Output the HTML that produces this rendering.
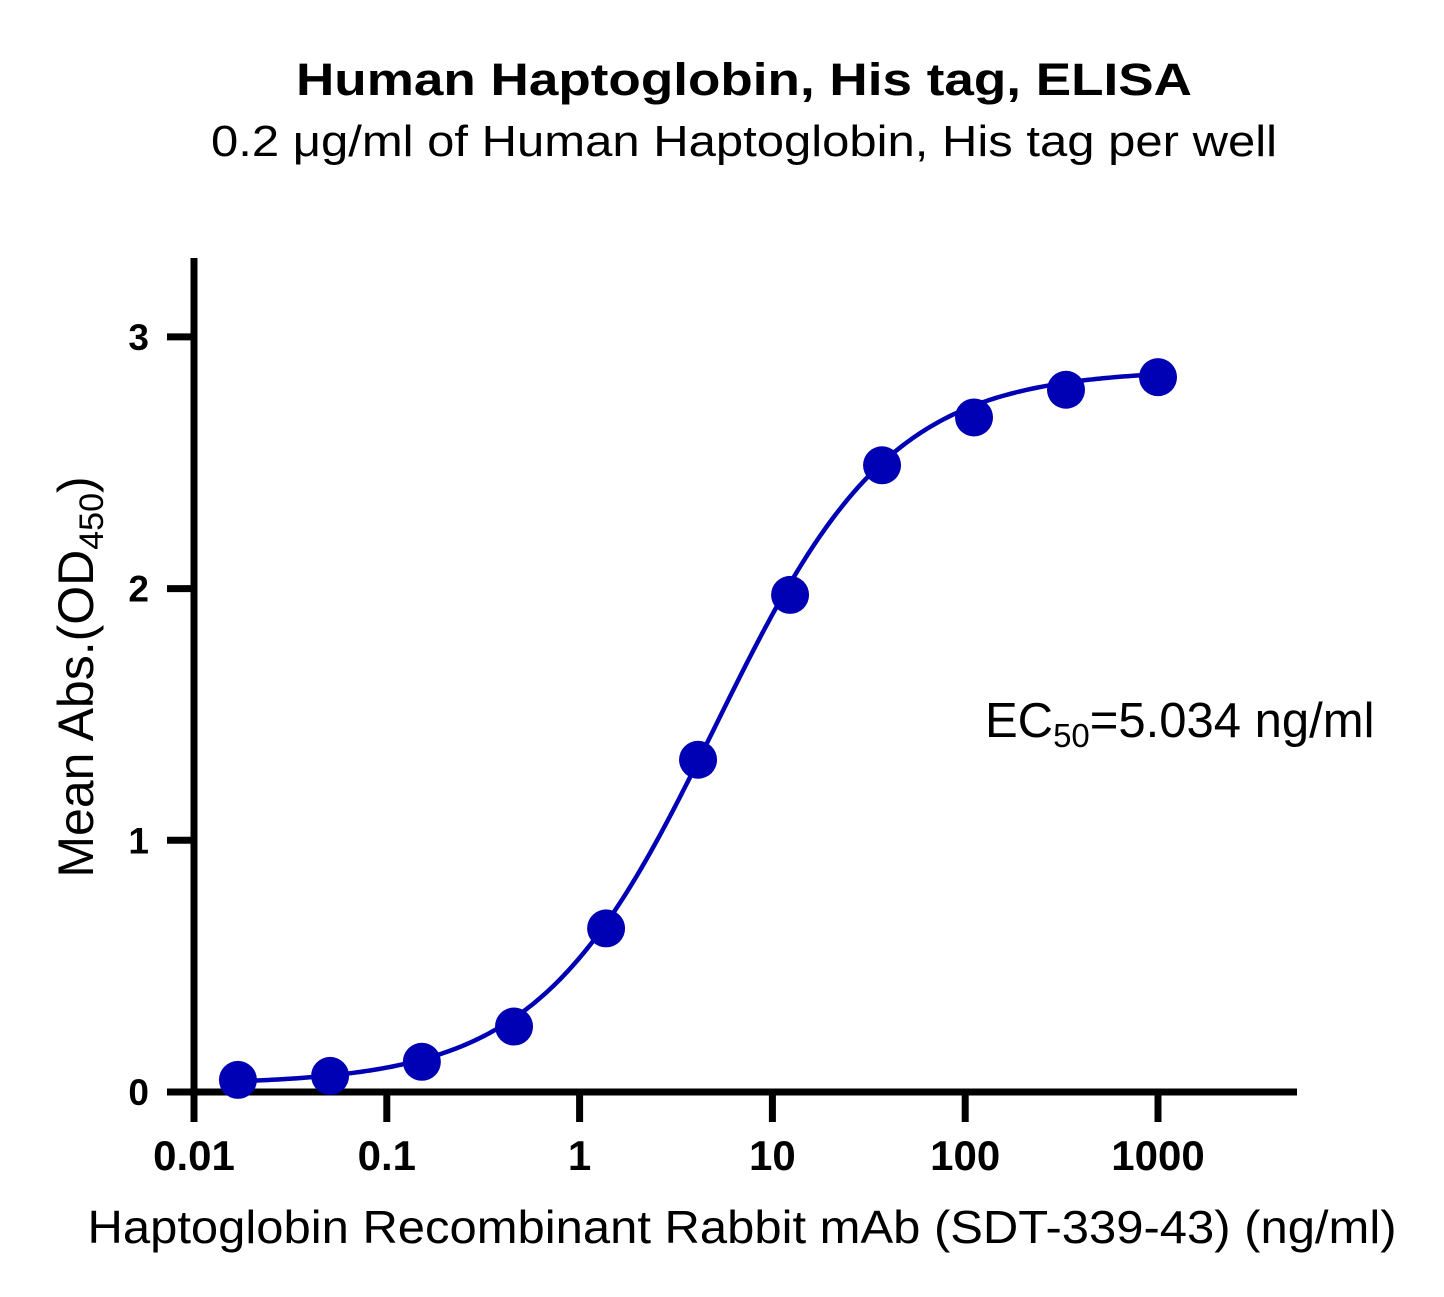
<!DOCTYPE html>
<html><head><meta charset="utf-8"><style>
html,body{margin:0;padding:0;background:#fff;}
svg{display:block;font-family:"Liberation Sans",Arial,sans-serif;}
</style></head><body>
<svg id="chart" width="1444" height="1297" viewBox="0 0 1444 1297" xmlns="http://www.w3.org/2000/svg">
<text x="744" y="95" text-anchor="middle" font-size="45" font-weight="bold" textLength="896" lengthAdjust="spacingAndGlyphs">Human Haptoglobin, His tag, ELISA</text>
<text x="744" y="156" text-anchor="middle" font-size="44" textLength="1066" lengthAdjust="spacingAndGlyphs">0.2 μg/ml of Human Haptoglobin, His tag per well</text>
<g id="axes"></g>
<g id="plot"></g>
<text x="985" y="737" font-size="49">EC<tspan font-size="33" dy="10">50</tspan><tspan dy="-10">=5.034 ng/ml</tspan></text>
<text transform="translate(93,677) rotate(-90)" text-anchor="middle" font-size="50">Mean Abs.(OD<tspan font-size="34" dy="10">450</tspan><tspan dy="-10">)</tspan></text>
<text x="742" y="1243" text-anchor="middle" font-size="46" textLength="1309" lengthAdjust="spacingAndGlyphs">Haptoglobin Recombinant Rabbit mAb (SDT-339-43) (ng/ml)</text>
</svg>
<script>
const concentrations = [1000, 333.3, 111.1, 37.04, 12.35, 4.115, 1.372, 0.457, 0.152, 0.0508, 0.0169];
const absorbance = [2.84, 2.79, 2.68, 2.49, 1.975, 1.32, 0.65, 0.26, 0.12, 0.064, 0.048];
const fitBottom = [0.03];
const fitTop = [2.87];
const fitEC50 = [5.034];
const fitHill = [0.95];
const xTickValues = [0.01, 0.1, 1, 10, 100, 1000];
const xTickLabels = ["0.01", "0.1", "1", "10", "100", "1000"];
const yTickValues = [0, 1, 2, 3];
const yTickLabels = ["0", "1", "2", "3"];

const NS = "http://www.w3.org/2000/svg";
const X0 = 194, PX_DEC = 192.8, Y0 = 1092, PX_UNIT = 251.7;
function xs(v){ return X0 + (Math.log10(v) + 2) * PX_DEC; }
function ys(v){ return Y0 - v * PX_UNIT; }
function mk(tag, attrs, parent){ const e = document.createElementNS(NS, tag); for (const k in attrs) e.setAttribute(k, attrs[k]); parent.appendChild(e); return e; }
const axes = document.getElementById('axes'), plot = document.getElementById('plot');

let yl = mk('line', {x1:X0, y1:258, x2:X0, y2:1122, stroke:'#000', 'stroke-width':7}, axes);


let xl = mk('line', {x1:167, y1:Y0, x2:1297, y2:Y0, stroke:'#000', 'stroke-width':7}, axes);



xTickValues.forEach((v, i) => {
  const x = xs(v);
  let t = mk('line', {x1:x, y1:Y0, x2:x, y2:1122, stroke:'#000', 'stroke-width':7}, axes);
  
  
  let l = mk('text', {x:x, y:1170, 'text-anchor':'middle', 'font-size':42, 'font-weight':'bold'}, axes);
  l.textContent = xTickLabels[i];
  
  
});
yTickValues.forEach((v, i) => {
  const y = ys(v);
  if (v > 0) {
    let t = mk('line', {x1:167, y1:y, x2:X0, y2:y, stroke:'#000', 'stroke-width':7}, axes);
    
    
  }
  let l = mk('text', {x:149, y:y + 13, 'text-anchor':'end', 'font-size':37, 'font-weight':'bold'}, axes);
  l.textContent = yTickLabels[i];
  
  
});

let d = '';
const lmin = Math.log10(Math.min(...concentrations)), lmax = Math.log10(Math.max(...concentrations));
for (let i = 0; i <= 300; i++) {
  const c = Math.pow(10, lmin + (lmax - lmin) * i / 300);
  const v = fitBottom[0] + (fitTop[0] - fitBottom[0]) / (1 + Math.pow(fitEC50[0] / c, fitHill[0]));
  d += (i ? 'L' : 'M') + xs(c).toFixed(2) + ',' + ys(v).toFixed(2);
}
let curve = mk('path', {d:d, fill:'none', stroke:'#0000b4', 'stroke-width':4.5}, plot);



concentrations.forEach((c, i) => {
  let p = mk('circle', {cx:xs(c), cy:ys(absorbance[i]), r:19, fill:'#0000b4'}, plot);
  
  
});
</script>
</body></html>
